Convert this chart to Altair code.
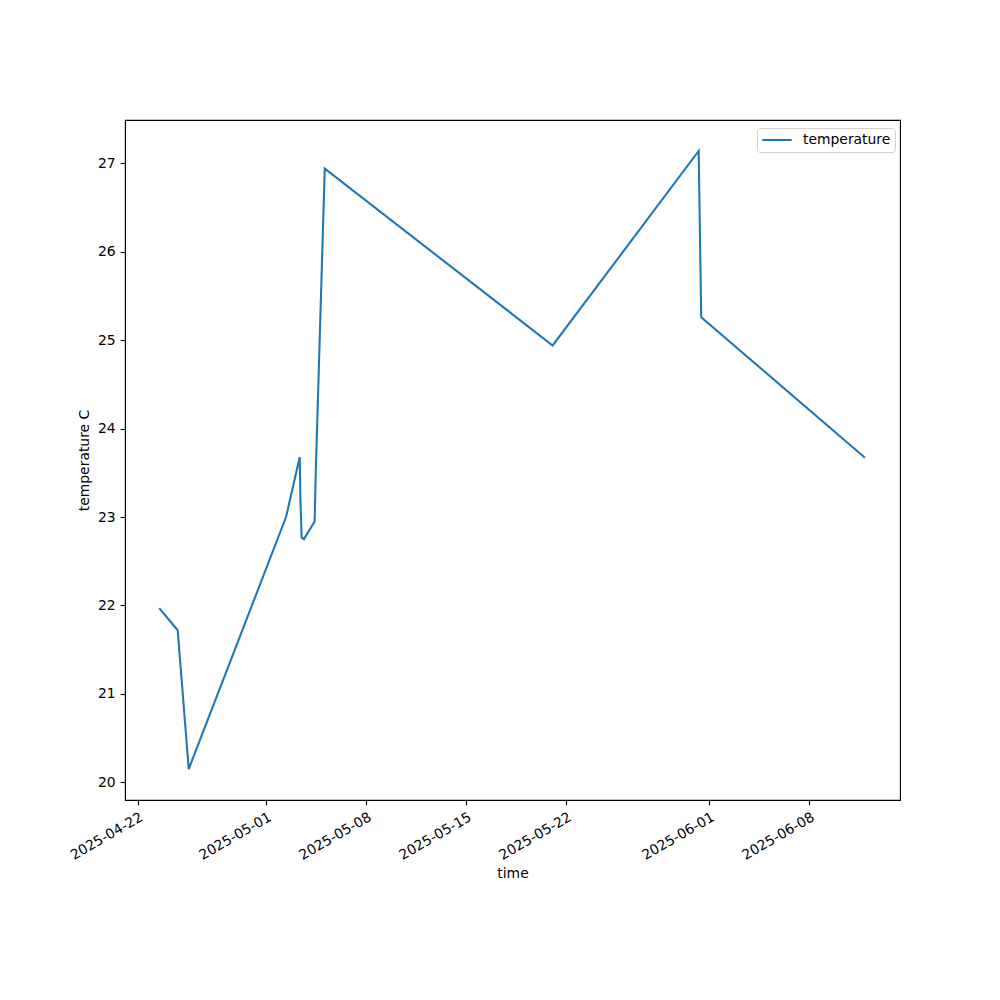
import altair as alt
import pandas as pd

times = [
    "2025-04-23T12:00:00",
    "2025-04-24T19:00:00",
    "2025-04-25T13:30:00",
    "2025-05-02T09:00:00",
    "2025-05-03T08:00:00",
    "2025-05-03T09:00:00",
    "2025-05-03T11:15:00",
    "2025-05-03T15:00:00",
    "2025-05-04T09:00:00",
    "2025-05-04T11:00:00",
    "2025-05-05T02:00:00",
    "2025-05-21T00:45:00",
    "2025-05-31T06:00:00",
    "2025-05-31T10:20:00",
    "2025-06-11T21:20:00",
]
temps = [21.97, 21.72, 20.15, 23.00, 23.68, 23.22, 22.77, 22.75, 22.95, 23.53,
         26.94, 24.94, 27.14, 25.26, 23.67]
series_name = ["temperature"] * len(times)

tick_dates = [(2025, 4, 22), (2025, 5, 1), (2025, 5, 8), (2025, 5, 15),
              (2025, 5, 22), (2025, 6, 1), (2025, 6, 8)]

df = pd.DataFrame({"time": times, "temperature": temps, "series": series_name})

FS = 13.9

x_enc = alt.X(
    "time:T",
    title="time",
    scale=alt.Scale(domain=[alt.DateTime(year=2025, month=4, date=21, hours=2, minutes=30),
                            alt.DateTime(year=2025, month=6, date=14, hours=8, minutes=10)],
                    nice=False),
    axis=alt.Axis(
        values=[alt.DateTime(year=y, month=m, date=d) for (y, m, d) in tick_dates],
        format="%Y-%m-%d",
        labelAngle=330,
        labelAlign="right",
        labelBaseline="top",
        grid=False,
        titlePadding=4,
    ),
)
y_enc = alt.Y(
    "temperature:Q",
    title="temperature C",
    scale=alt.Scale(domain=[19.80, 27.49], nice=False, zero=False),
    axis=alt.Axis(values=[20, 21, 22, 23, 24, 25, 26, 27], grid=False, titlePadding=6),
)

chart = alt.Chart(df).mark_line(strokeWidth=2.08).encode(
    x=x_enc,
    y=y_enc,
    color=alt.Color(
        "series:N",
        scale=alt.Scale(range=["#1f77b4"]),
        legend=alt.Legend(
            title=None,
            orient="none",
            legendX=632,
            legendY=8,
            symbolType="M-1,0L1,0",
            symbolSize=870,
            symbolStrokeWidth=2.08,
            symbolFillColor="transparent",
            clipHeight=16,
            labelFontSize=FS,
            labelFont="DejaVu Sans",
            labelColor="black",
            labelOffset=10,
            strokeColor="#d0d0d0",
            fillColor="white",
            padding=4,
            cornerRadius=3,
        ),
    ),
).properties(
    width=775,
    height=680,
    background="white",
    autosize=alt.AutoSizeParams(type="none"),
    padding={"left": 117, "top": 112, "right": 92, "bottom": 192},
).configure_view(
    stroke="black", strokeWidth=1.1
).configure_axis(
    domainColor="black",
    domainWidth=1.1,
    tickColor="black",
    tickWidth=1.1,
    tickSize=4.9,
    labelPadding=4.9,
    labelFont="DejaVu Sans",
    labelFontSize=FS,
    labelColor="black",
    titleFont="DejaVu Sans",
    titleFontSize=FS,
    titleFontWeight="normal",
    titleColor="black",
)

chart.save("out.html", embed_options={"renderer": "svg", "actions": False})
